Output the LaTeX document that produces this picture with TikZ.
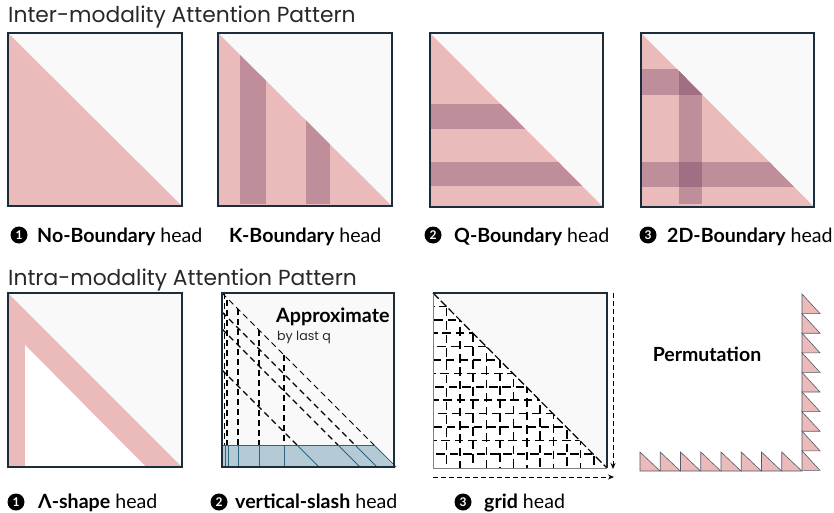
\documentclass[tikz,border=0pt]{standalone}
\usepackage{fontspec}
\setmainfont{Lato}
\newfontfamily\pop{Poppins}
\usetikzlibrary{arrows.meta}
\definecolor{pinkc}{RGB}{235,187,187}
\definecolor{barc}{RGB}{192,141,155}
\definecolor{darkbar}{RGB}{161,111,132}
\definecolor{bgc}{RGB}{249,249,249}
\definecolor{framec}{RGB}{27,45,58}
\definecolor{stripc}{RGB}{180,203,213}
\definecolor{stripl}{RGB}{42,100,130}
\definecolor{tric}{RGB}{80,90,100}
\definecolor{titc}{RGB}{40,40,40}
\begin{document}
\begin{tikzpicture}[x=1pt,y=-1pt,
  frame/.style={draw=framec,line width=2pt},
  ttl/.style={anchor=base west,inner sep=0,font=\pop\fontsize{21.8}{24}\selectfont,text=titc},
  lbl/.style={anchor=base west,inner sep=0,font=\fontsize{19.6}{22}\selectfont},
  num/.style={circle,fill=black,text=white,inner sep=0,minimum size=17pt,font=\bfseries\fontsize{12}{13}\selectfont},
  dsh/.style={black,line width=1.1pt,dash pattern=on 6pt off 4pt},
  gl/.style={black,line width=1.6pt,dash pattern=on 8.5pt off 4.9pt},
  sl/.style={stripl,line width=1pt},
  ptri/.style={fill=pinkc,draw=tric,line width=0.6pt}]
\useasboundingbox (0,0) rectangle (834,513);

% ---------- Titles
\node[ttl] (t1) at (8,23) {Inter-modality Attention Pattern};
\node[ttl] (t2) at (8,285) {Intra-modality Attention Pattern};

% ---------- Box 1: No-Boundary
\fill[bgc] (8,33) rectangle (182,206);
\fill[pinkc] (8,33) -- (182,206) -- (8,206) -- cycle;
\draw[frame] (8,33) rectangle (182,206);

% ---------- Box 2: K-Boundary
\fill[bgc] (218,33) rectangle (392,206);
\begin{scope}
  \clip (218,33) -- (392,206) -- (218,206) -- cycle;
  \fill[pinkc] (218,33) rectangle (392,206);
  \fill[barc] (240,33) rectangle (266,204);
  \fill[barc] (306,33) rectangle (330,204);
\end{scope}
\draw[frame] (218,33) rectangle (392,206);

% ---------- Box 3: Q-Boundary
\fill[bgc] (430,33) rectangle (603,207);
\begin{scope}
  \clip (430,33) -- (603,207) -- (430,207) -- cycle;
  \fill[pinkc] (430,33) rectangle (603,207);
  \fill[barc] (430,104) rectangle (603,129);
  \fill[barc] (430,162) rectangle (603,186);
\end{scope}
\draw[frame] (430,33) rectangle (603,207);

% ---------- Box 4: 2D-Boundary
\fill[bgc] (641,33) rectangle (814,207);
\begin{scope}
  \clip (641,33) -- (814,207) -- (641,207) -- cycle;
  \fill[pinkc] (641,33) rectangle (814,207);
  \fill[barc] (641,69) rectangle (814,95);
  \fill[barc] (641,162) rectangle (814,187);
  \fill[barc] (679,33) rectangle (702,204);
  \fill[darkbar] (679,69) rectangle (702,95);
  \fill[darkbar] (679,162) rectangle (702,187);
\end{scope}
\draw[frame] (641,33) rectangle (814,207);

% ---------- Row 1 labels
\node[num] (n1) at (19,235) {1};
\node[lbl] (l1) at (37,242) {\textbf{No-Boundary} head};
\node[lbl] (l2) at (229,242) {\textbf{K-Boundary} head};
\node[num] (n2) at (433,235) {2};
\node[lbl] (l3) at (454,242) {\textbf{Q-Boundary} head};
\node[num] (n3) at (648,235) {3};
\node[lbl] (l4) at (667,242) {\textbf{2D-Boundary} head};

% ---------- Box 5: Lambda shape
\fill[bgc] (8,293) rectangle (182,467);
\fill[pinkc] (8,293) -- (182,467) -- (8,467) -- cycle;
\fill[white] (25,345) -- (146,467) -- (25,467) -- cycle;
\draw[frame] (8,293) rectangle (182,467);

% ---------- Box 6: vertical-slash
\fill[bgc] (222,293) rectangle (394,467);
\fill[white] (222,293) rectangle (226,467);
\fill[stripc] (222,445) -- (374,445) -- (394,467) -- (222,467) -- cycle;
\draw[sl] (222,445) -- (374,445);
\foreach \x in {225,228,238,259,284} \draw[sl] (\x,445) -- (\x,467);
\foreach \x in {297,338,355,374} \draw[sl] (\x,445) -- ++(22,22);
% dashed verticals
\draw[dsh,line width=1.4pt] (224.5,293) -- (224.5,445);
\draw[dsh,line width=1.2pt] (227,300) -- (227,445);
\draw[dsh] (238,309) -- (238,445);
\draw[dsh] (259,330) -- (259,445);
\draw[dsh] (284,355) -- (284,445);
% dashed diagonals
\draw[dsh,line width=0.8pt] (222,293) -- (374,445);
\draw[dsh] (222,312) -- (355,445);
\draw[dsh] (222,329) -- (338,445);
\draw[dsh] (222,370) -- (297,445);
\draw[frame] (222,293) rectangle (394,467);
\node[anchor=base west,inner sep=0,font=\bfseries\fontsize{19.7}{22}\selectfont] (ap) at (276,322) {Approximate};
\node[anchor=base west,inner sep=0,font=\pop\fontsize{12.6}{14}\selectfont,text=titc] (bq) at (277,340) {by last q};

% ---------- Box 7: grid
\fill[bgc] (433,293) rectangle (607,468);
\fill[white] (433,293) -- (607,468) -- (433,468) -- cycle;
\begin{scope}
  \clip (433,293) -- (607,468) -- (433,468) -- cycle;
  \foreach \k in {1,...,12} {
    \pgfmathsetmacro{\ph}{mod(5*\k,13)+2}
    \draw[gl,dash phase=\ph pt] (433,293+13.4*\k) -- (607,293+13.4*\k);
    \pgfmathsetmacro{\pv}{mod(7*\k+3,13)+2}
    \draw[gl,dash phase=\pv pt] (433+13.4*\k,293) -- (433+13.4*\k,468);
  }
\end{scope}
\draw[black,line width=1.2pt,dash pattern=on 8pt off 3pt] (433,293) -- (607,468);
\draw[gray,line width=0.8pt] (433,293) -- (433,468) -- (607,468);
\draw[draw=framec,line width=2pt] (433,293) -- (607,293) -- (607,468);
\coordinate (va) at (613,293);
\coordinate (vb) at (613,469);
\coordinate (ha) at (433,477);
\coordinate (hb) at (614,477);
\draw[black,line width=1pt,dash pattern=on 5pt off 3pt,-{Stealth[length=6pt,width=5pt]}] (va) -- (vb);
\draw[black,line width=1pt,dash pattern=on 5pt off 3pt,-{Stealth[length=6pt,width=5pt]}] (ha) -- (hb);

% ---------- Row 2 labels
\node[num] (m1) at (16,502) {1};
\node[lbl] (k1) at (38,508) {\textbf{Λ-shape} head};
\node[num] (m2) at (219,502) {2};
\node[lbl] (k2) at (235,508) {\textbf{vertical-slash} head};
\node[num] (m3) at (463,502) {3};
\node[lbl] (k3) at (484,508) {\textbf{grid} head};

% ---------- Permutation
\node[inner sep=0,font=\bfseries\fontsize{19.5}{21}\selectfont] (perm) at (707,354) {Permutation};
\foreach \i in {0,...,8} {
  \draw[ptri] (802,294+19.6*\i) -- (802,294+19.6*\i+19.6) -- (820,294+19.6*\i+19.6) -- cycle;
}
\foreach \i in {0,...,7} {
  \draw[ptri] (640+20.25*\i,452) -- (640+20.25*\i,471) -- (660+20.25*\i,471) -- cycle;
}
\end{tikzpicture}
\end{document}
